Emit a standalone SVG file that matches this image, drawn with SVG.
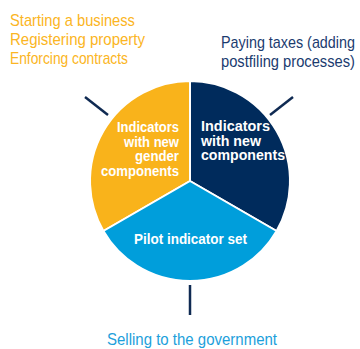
<svg xmlns="http://www.w3.org/2000/svg" width="360" height="349" viewBox="0 0 360 349">
<style>
.lbl{font-family:"Liberation Sans",Arial,sans-serif;font-size:16px}
.in{font-family:"Liberation Sans",Arial,sans-serif;font-size:14px;font-weight:bold;fill:#fff}
.seg{stroke:#fff;stroke-width:2;stroke-linejoin:round}
.tick{stroke:#0f2a52;stroke-width:2.5;fill:none}
</style>
<rect width="360" height="349" fill="#fff"/>
<g id="pie">
<g id="gender">
<path class="seg" fill="#F9B31B" d="M190,181 L190,81 A100,100 0 0 0 103.4,231 Z"/>
<text class="in" text-anchor="end"><tspan x="179" y="132" textLength="62" lengthAdjust="spacingAndGlyphs">Indicators</tspan><tspan x="179" y="146.5" textLength="55" lengthAdjust="spacingAndGlyphs">with new</tspan><tspan x="179" y="161" textLength="44" lengthAdjust="spacingAndGlyphs">gender</tspan><tspan x="179" y="176" textLength="78" lengthAdjust="spacingAndGlyphs">components</tspan></text>
</g>
<g id="newcomp">
<path class="seg" fill="#002B5C" d="M190,181 L190,81 A100,100 0 0 1 276.6,231 Z"/>
<text class="in"><tspan x="201" y="131" textLength="69" lengthAdjust="spacingAndGlyphs">Indicators</tspan><tspan x="201" y="145.5" textLength="60" lengthAdjust="spacingAndGlyphs">with new</tspan><tspan x="201" y="160" textLength="84" lengthAdjust="spacingAndGlyphs">components</tspan></text>
</g>
<g id="pilot">
<path class="seg" fill="#009EDB" d="M190,181 L103.4,231 A100,100 0 0 0 276.6,231 Z"/>
<text class="in" x="134" y="244" textLength="113" lengthAdjust="spacingAndGlyphs">Pilot indicator set</text>
</g>
</g>
<g id="connectors">
<line class="tick" x1="85" y1="97" x2="108" y2="115"/>
<line class="tick" x1="270" y1="115" x2="293" y2="97"/>
<line class="tick" x1="190" y1="285" x2="190" y2="315"/>
</g>
<g id="label-left" transform="translate(10,0) scale(0.85,1)">
<text class="lbl" fill="#FBB523"><tspan x="0" y="26" textLength="147" lengthAdjust="spacingAndGlyphs">Starting a business</tspan><tspan x="0" y="45" textLength="158.8" lengthAdjust="spacingAndGlyphs">Registering property</tspan><tspan x="0" y="64" textLength="138.8" lengthAdjust="spacingAndGlyphs">Enforcing contracts</tspan></text>
</g>
<g id="label-right" transform="translate(221,0) scale(0.85,1)">
<text class="lbl" fill="#1B3B6F"><tspan x="0" y="48" textLength="157.6" lengthAdjust="spacingAndGlyphs">Paying taxes (adding</tspan><tspan x="0" y="67" textLength="157.6" lengthAdjust="spacingAndGlyphs">postfiling processes)</tspan></text>
</g>
<g id="label-bottom" transform="translate(107,0) scale(0.85,1)">
<text class="lbl" fill="#1D9FDB" x="0" y="345" textLength="200" lengthAdjust="spacingAndGlyphs">Selling to the government</text>
</g>
</svg>
